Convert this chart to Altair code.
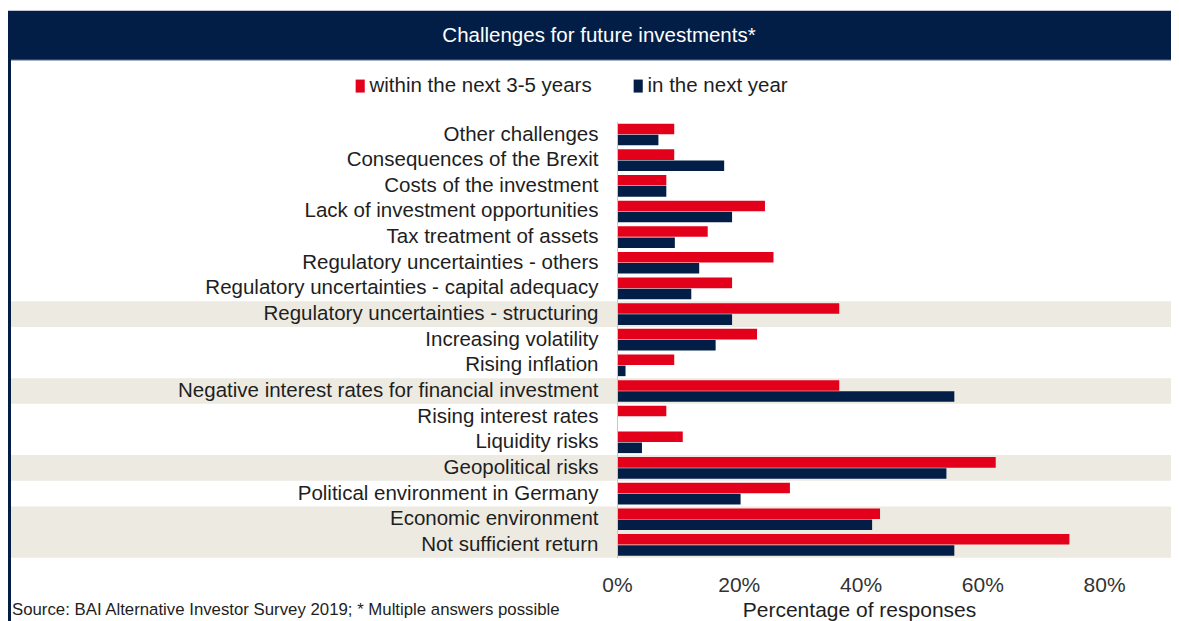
import altair as alt
import pandas as pd

# ---- data ----
categories = [
    "Other challenges",
    "Consequences of the Brexit",
    "Costs of the investment",
    "Lack of investment opportunities",
    "Tax treatment of assets",
    "Regulatory uncertainties - others",
    "Regulatory uncertainties - capital adequacy",
    "Regulatory uncertainties - structuring",
    "Increasing volatility",
    "Rising inflation",
    "Negative interest rates for financial investment",
    "Rising interest rates",
    "Liquidity risks",
    "Geopolitical risks",
    "Political environment in Germany",
    "Economic environment",
    "Not sufficient return",
]
within_3_5_years = [9.4, 9.4, 8.1, 24.3, 14.9, 25.7, 18.9, 36.5, 23.0, 9.4,
                    36.5, 8.1, 10.8, 62.2, 28.4, 43.2, 74.3]
next_year = [6.8, 17.6, 8.1, 18.9, 9.5, 13.5, 12.2, 18.9, 16.2, 1.4,
             55.4, 0.0, 4.1, 54.1, 20.3, 41.9, 55.4]
series_names = ["within the next 3-5 years", "in the next year"]
highlighted = [
    "Regulatory uncertainties - structuring",
    "Negative interest rates for financial investment",
    "Geopolitical risks",
    "Economic environment",
    "Not sufficient return",
]
x_ticks = [0, 0.2, 0.4, 0.6, 0.8]
title_text = "Challenges for future investments*"
source_text = "Source: BAI Alternative Investor Survey 2019; * Multiple answers possible"
x_title = "Percentage of responses"

RED = "#E2001A"
NAVY = "#021E47"
BEIGE = "#EDEAE2"
FONT = "Liberation Sans"

rows = []
for c, a, b in zip(categories, within_3_5_years, next_year):
    rows.append({"category": c, "series": series_names[0], "value": a / 100})
    rows.append({"category": c, "series": series_names[1], "value": b / 100})
df = pd.DataFrame(rows)
bands_df = pd.DataFrame({"category": highlighted})
one = pd.DataFrame({"a": [0]})

W, H = 548, 436
PAD_L, PAD_T = 609, 113.7
RIGHT = 1163 - PAD_L  # right edge of the svg in plot coordinates

y_scale = alt.Scale(domain=categories, paddingInner=0, paddingOuter=0)
y_axis = alt.Axis(title=None, labelFont=FONT, labelFontSize=20.5, labelColor="#1e1e1e",
                  labelPadding=19, labelLimit=600, ticks=False, domain=True,
                  domainColor="#C8C8C8", domainWidth=1, labelBaseline="middle")

bands = alt.Chart(bands_df).mark_rect(color=BEIGE).encode(
    y=alt.Y("category:N", sort=categories, scale=y_scale, axis=y_axis),
    x=alt.value(-606),
    x2=alt.value(RIGHT),
)

bars = alt.Chart(df).mark_bar().encode(
    x=alt.X("value:Q", scale=alt.Scale(domain=[0, 0.9], nice=False),
            axis=alt.Axis(values=x_ticks, format=".0%", grid=False, domain=False, ticks=False,
                          labelFlush=False,
                          labelFont=FONT, labelFontSize=21, labelColor="#333333",
                          labelPadding=17, title=x_title, titleFont=FONT, titleFontSize=21,
                          titleFontWeight="normal", titleColor="#1e1e1e",
                          titleX=242, titleY=59, titleBaseline="alphabetic",
                          titleAnchor="middle", titleAlign="center")),
    y=alt.Y("category:N", sort=categories, scale=y_scale, axis=y_axis),
    yOffset=alt.YOffset("series:N", sort=series_names,
                        scale=alt.Scale(domain=series_names, paddingInner=0.05, paddingOuter=0.18)),
    color=alt.Color("series:N", sort=series_names,
                    scale=alt.Scale(domain=series_names, range=[RED, NAVY]),
                    legend=alt.Legend(orient="none", legendX=-269, legendY=-46,
                                      direction="horizontal", title=None,
                                      labelFont=FONT, labelFontSize=20.5, labelColor="#1e1e1e",
                                      labelLimit=500,
                                      symbolType="M-0.4,-1H1V1H-0.4Z", symbolSize=169,
                                      symbolStrokeWidth=0, labelOffset=1, columnPadding=34,
                                      padding=0)),
)

title_bar = alt.Chart(one).mark_rect(color=NAVY).encode(
    x=alt.value(-610), x2=alt.value(RIGHT), y=alt.value(-111), y2=alt.value(-61.5)
)
title_line = alt.Chart(one).mark_rule(color="#9AA8BA", strokeWidth=1).encode(
    x=alt.value(-606), x2=alt.value(RIGHT), y=alt.value(-61.5)
)
frame_line = alt.Chart(one).mark_rule(color=NAVY, strokeWidth=3).encode(
    x=alt.value(-607.5), y=alt.value(-62), y2=alt.value(505)
)
title_mark = alt.Chart(one).mark_text(
    text=title_text, font=FONT, fontSize=20.5, color="white", align="center", baseline="middle"
).encode(x=alt.value(-18), y=alt.value(-86))
source_mark = alt.Chart(one).mark_text(
    text=source_text, font=FONT, fontSize=16.8, color="#1e1e1e", align="left", baseline="alphabetic"
).encode(x=alt.value(-605), y=alt.value(493))

chart = alt.layer(bands, bars, title_bar, title_line, frame_line, title_mark, source_mark).properties(
    width=W, height=H,
    autosize=alt.AutoSizeParams(type="none"),
    padding={"left": PAD_L, "top": PAD_T, "right": 1163 - PAD_L - W, "bottom": 613 - PAD_T - H},
    background="white",
).configure_view(stroke=None)

chart.save("out.html", embed_options={"renderer": "svg", "actions": False})
